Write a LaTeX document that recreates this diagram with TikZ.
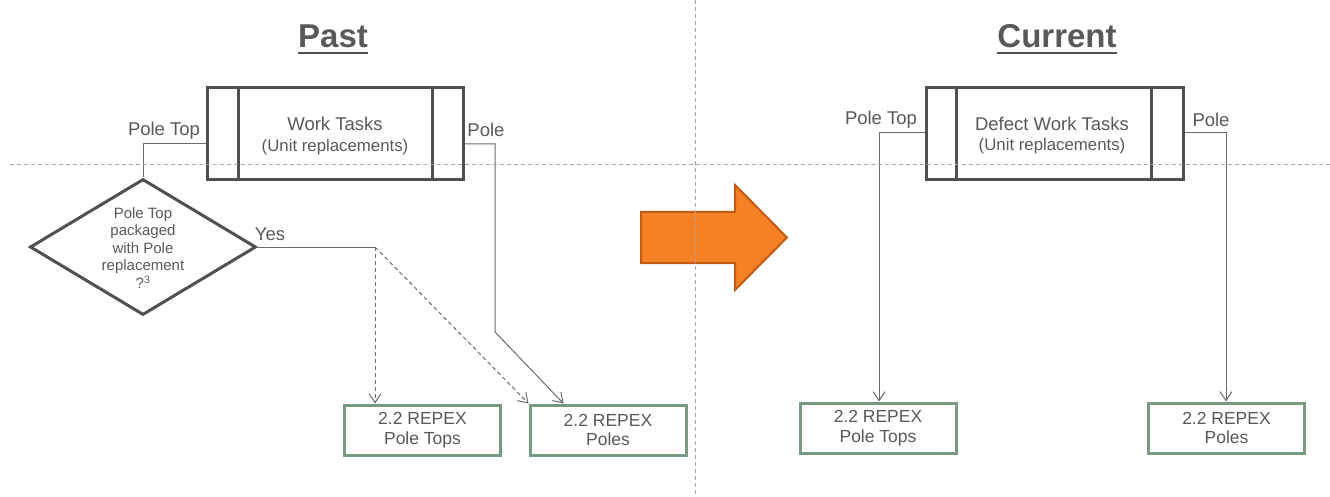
\documentclass[tikz,border=0pt]{standalone}
\usepackage{fontspec}
\setmainfont{Liberation Sans}
\usetikzlibrary{arrows.meta,shapes.geometric,calc}
\definecolor{txt}{HTML}{595959}
\definecolor{boxline}{HTML}{505050}
\definecolor{repex}{HTML}{789A80}
\definecolor{arrowfill}{HTML}{F58025}
\definecolor{arrowedge}{HTML}{C55A11}
\definecolor{guide}{HTML}{A6A6A6}
\definecolor{wire}{HTML}{6A6A6A}

\begin{document}
\begin{tikzpicture}[x=1pt,y=-1pt,
  every node/.style={text=txt},
  titletext/.style={font=\fontsize{33}{36}\selectfont\bfseries, inner sep=0pt, anchor=base},
  tasks/.style={draw=boxline, line width=3pt, minimum width=256pt, minimum height=92pt, inner sep=0pt},
  label/.style={font=\fontsize{18.5}{20}\selectfont, inner sep=0pt},
  repexbox/.style={draw=repex, line width=3pt, minimum width=156pt, minimum height=50pt, inner sep=0pt,
                   align=center, font=\fontsize{17.5}{19.5}\selectfont},
  decision/.style={draw=boxline, line width=3pt, diamond, aspect=1.66, minimum width=226pt,
                   minimum height=136pt, inner sep=0pt},
  conn/.style={draw=wire, line width=1pt},
  tip/.style={-{Straight Barb[length=9pt,width=12pt]}},
  guideline/.style={draw=guide, line width=1pt, dash pattern=on 4pt off 3pt}
]
\useasboundingbox[fill=white] (0,0) rectangle (1330,497);

% ---------- headings ----------
\node[titletext] (pasttitle) at (333,48) {Past};
\node[titletext] (curtitle) at (1057,48) {Current};
\draw[boxline, line width=2.5pt] ([yshift=-5pt]pasttitle.base west) -- ([yshift=-5pt]pasttitle.base east);
\draw[boxline, line width=2.5pt] ([yshift=-5pt]curtitle.base west) -- ([yshift=-5pt]curtitle.base east);

% ---------- past flow ----------
\node[tasks] (wt) at (335,134) {};
\draw[boxline, line width=3pt] ([xshift=33pt]wt.north west) -- ([xshift=33pt]wt.south west);
\draw[boxline, line width=3pt] ([xshift=-32pt]wt.north east) -- ([xshift=-32pt]wt.south east);
\node[label] (wtname) at (335,124) {Work Tasks};
\node[font=\fontsize{16.8}{18}\selectfont, inner sep=0pt] (wtsub) at (335,147) {(Unit replacements)};

\node[label] (ptlabel) at (164,131) {Pole Top};
\node[label] (plabel) at (486,130) {Pole};

\node[decision] (dec) at (143,247) {};
\node[align=center, font=\fontsize{15}{17.5}\selectfont, inner sep=0pt] (dectext) at (143,248)
  {Pole Top\\packaged\\with Pole\\replacement\\?\textsuperscript{3}};
\node[label] (yeslabel) at (270,234) {Yes};

\node[repexbox] (pt1) at (422.5,430) {2.2 REPEX\\Pole Tops};
\node[repexbox] (po1) at (608,430) {2.2 REPEX\\Poles};

\coordinate (ptbend) at (143,144);
\coordinate (pbend1) at (495,144);
\coordinate (pbend2) at (495,332);
\coordinate (yesbend) at (375,247);

\draw[conn] (wt.west |- ptbend) -- (ptbend) -- (dec.north);
\draw[conn, tip] (wt.east |- pbend1) -- (pbend1) -- (pbend2) -- ($(po1.north west)+(35,0)$);
\draw[conn] (dec.east) -- (yesbend);
\draw[conn, tip, dash pattern=on 4pt off 3pt] (yesbend) -- (yesbend |- pt1.north);
\draw[conn, tip, dash pattern=on 4pt off 3pt] (yesbend) -- (po1.north west);

% ---------- transition arrow ----------
\fill[arrowfill] (641,212) -- (735,212) -- (735,185) -- (787,237.5) -- (735,290) -- (735,263) -- (641,263) -- cycle;
\draw[arrowedge, line width=2pt, line join=miter]
  (641,212) -- (735,212) -- (735,185) -- (787,237.5) -- (735,290) -- (735,263) -- (641,263) -- cycle;

% ---------- current flow ----------
\node[tasks, minimum width=257pt] (ct) at (1054.5,134) {};
\draw[boxline, line width=3pt] ([xshift=32pt]ct.north west) -- ([xshift=32pt]ct.south west);
\draw[boxline, line width=3pt] ([xshift=-33pt]ct.north east) -- ([xshift=-33pt]ct.south east);
\node[label] (ctname) at (1052,124) {Defect Work Tasks};
\node[font=\fontsize{16.8}{18}\selectfont, inner sep=0pt] (ctsub) at (1052,146) {(Unit replacements)};

\node[label] (cptlabel) at (881,120) {Pole Top};
\node[label] (cplabel) at (1211,120) {Pole};

\node[repexbox] (pt2) at (878,428) {2.2 REPEX\\Pole Tops};
\node[repexbox] (po2) at (1226.5,428) {2.2 REPEX\\Poles};

\coordinate (cbendL) at (879,133);
\coordinate (cbendR) at (1226,133);
\draw[conn, tip] (ct.west |- cbendL) -- (cbendL) -- (cbendL |- pt2.north);
\draw[conn, tip] (ct.east |- cbendR) -- (cbendR) -- (cbendR |- po2.north);

% ---------- guide lines ----------
\draw[guideline] (10,165) -- (1330,165);
\draw[guideline] (695,0) -- (695,497);
\end{tikzpicture}
\end{document}
